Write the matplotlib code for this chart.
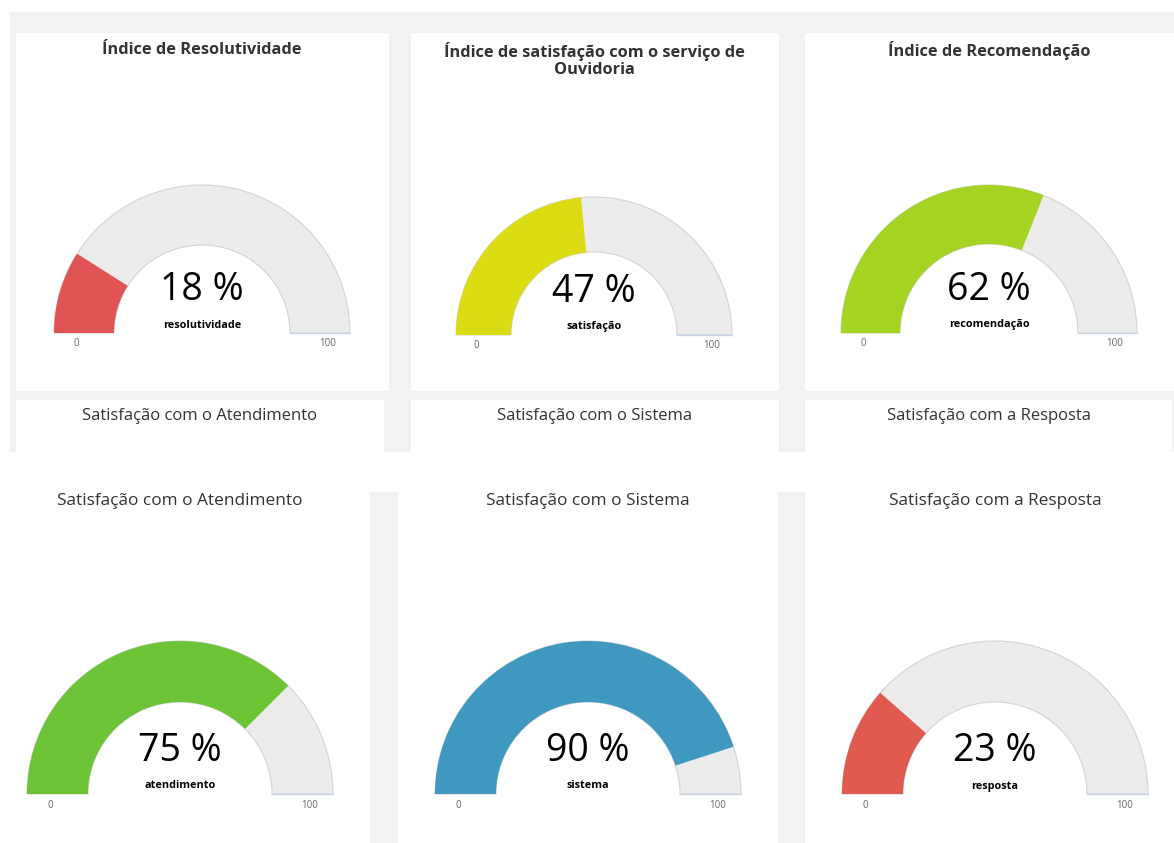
import matplotlib.pyplot as plt
from matplotlib.patches import Rectangle, Wedge

plt.rcParams['font.family'] = ['Open Sans', 'DejaVu Sans']

# data
titles = ["Índice de Resolutividade",
          "Índice de satisfação com o serviço de\nOuvidoria",
          "Índice de Recomendação",
          "Satisfação com o Atendimento",
          "Satisfação com o Sistema",
          "Satisfação com a Resposta"]
values = [18, 47, 62, 75, 90, 23]
labels = ["resolutividade", "satisfação", "recomendação",
          "atendimento", "sistema", "resposta"]
colors = ["#e05553", "#dcdc12", "#a4d322", "#6cc335", "#3e98bf", "#e05a50"]
row2_titles = ["Satisfação com o Atendimento", "Satisfação com o Sistema",
               "Satisfação com a Resposta"]
vmin, vmax = 0, 100

W, H = 1174, 843
fig = plt.figure(figsize=(W / 100, H / 100), dpi=100)
ax = fig.add_axes([0, 0, 1, 1])
ax.set_xlim(0, W)
ax.set_ylim(0, H)
ax.axis("off")

def Y(y):
    return H - y

def box(x0, y0, x1, y1, c):
    ax.add_patch(Rectangle((x0, Y(y1)), x1 - x0, y1 - y0, color=c, lw=0, zorder=0))

bg = "#f2f2f2"
# top dashboard background + panels
box(10, 12, W, 452, bg)
for x0, x1 in [(16, 389), (411, 779), (805, 1174)]:
    box(x0, 33, x1, 391, "white")
for x0, x1 in [(16, 384), (411, 779), (805, 1172)]:
    box(x0, 400, x1, 452, "white")
# bottom strips
box(370, 492, 398, H, bg)
box(778, 492, 805, H, bg)

for t, cx in zip(row2_titles, [200, 595, 989]):
    ax.text(cx, Y(416), t, ha="center", va="center", fontsize=12, color="#333333")

# gauge geometry (pixel layout)
geo = [(202, 333, 148, 88, 50), (594, 335, 138, 83, 60), (989, 333, 148, 89, 50),
       (180, 794, 153, 92, 501), (588, 794, 153, 92, 501), (995, 794, 153, 92, 501)]

for i, (cx, cy, ro, ri, ty) in enumerate(geo):
    v = values[i]
    ang = 180 - (v - vmin) / (vmax - vmin) * 180
    c = (cx, Y(cy))
    ax.add_patch(Wedge(c, ro, 0, 180, width=ro - ri, facecolor="#ececec",
                       edgecolor="#d4d4d4", lw=0.8, zorder=1))
    ax.add_patch(Wedge(c, ro, ang, 180, width=ro - ri, facecolor=colors[i],
                       edgecolor="none", zorder=2))
    ax.plot([cx + ri, cx + ro], [Y(cy), Y(cy)], color="#c8d4ee", lw=1, zorder=3)
    ax.text(cx, Y(cy - 43), f"{v} %", ha="center", va="center", fontsize=27, color="black")
    ax.text(cx, Y(cy - 8), labels[i], ha="center", va="center", fontsize=7.8,
            fontweight="bold", color="black")
    ax.text(cx - 0.85 * ro, Y(cy + 11), str(vmin), ha="center", va="center",
            fontsize=7, color="#666666")
    ax.text(cx + 0.85 * ro, Y(cy + 11), str(vmax), ha="center", va="center",
            fontsize=7, color="#666666")
    if i < 3:
        ax.text(cx, Y(ty), titles[i], ha="center", va="center", fontsize=11.8,
                fontweight="bold", color="#333333", linespacing=1.15)
    else:
        ax.text(cx, Y(ty), titles[i], ha="center", va="center", fontsize=12.4,
                color="#333333")

fig.savefig("out.png", dpi=100)
